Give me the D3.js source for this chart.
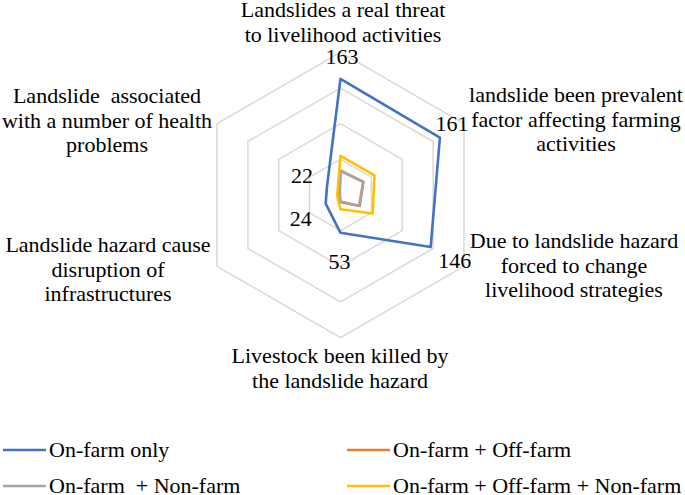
<!DOCTYPE html>
<html>
<head>
<meta charset="utf-8">
<script src="https://cdn.jsdelivr.net/npm/d3@7"></script>
</head>
<body style="margin:0">
<svg id="chart" width="685" height="495"></svg>
<script>
// categories, clockwise from the top
var categories = [
  ["Landslides a real threat", "to livelihood activities"],
  ["landslide been prevalent", "factor affecting farming", "activities"],
  ["Due to landslide hazard", "forced to change", "livelihood strategies"],
  ["Livestock been killed by", "the landslide hazard"],
  ["Landslide hazard cause", "disruption of", "infrastructures"],
  ["Landslide  associated", "with a number of health", "problems"]
]
var seriesNames = ["On-farm only", "On-farm + Off-farm", "On-farm  + Non-farm", "On-farm + Off-farm + Non-farm"]
var onFarmOnly = [163, 161, 146, 53, 24, 22]
var onOffFarm = [34, 37, 31, 10, 2, 2]
var onNonFarm = [34, 37, 30, 9, 1, 1]
var onOffNonFarm = [55, 55, 52, 20, 5, 5]
var ringTicks = [50, 100, 150, 200]

var colors = ["#4472C4", "#ED7D31", "#A5A5A5", "#FFC000"]
var allSeries = [onFarmOnly, onOffFarm, onNonFarm, onOffNonFarm]
var font = "Liberation Serif"

var cx = 340.5, cy = 195
var svg = d3.select("#chart").attr("font-family", font)
var g = svg.append("g").attr("transform", "translate(" + cx + "," + cy + ")")

var rScale = d3.scaleLinear().domain([0, 200]).range([0, 142.6])
var angle = d3.scaleLinear().domain([0, categories.length]).range([0, 2 * Math.PI])

var radial = d3.lineRadial()
  .angle((d, i) => angle(i))
  .radius(d => rScale(d))
  .curve(d3.curveLinearClosed)

// grid rings
g.selectAll(".ring")
  .data(ringTicks)
  .enter()
  .append("path")
  .attr("d", t => radial(categories.map(() => t)))
  .attr("fill", "none")
  .attr("stroke", "#d9d9d9")
  .attr("stroke-width", 1.5)

// series
g.selectAll(".series")
  .data(allSeries)
  .enter()
  .append("path")
  .attr("d", d => radial(d))
  .attr("fill", "none")
  .attr("stroke", (d, i) => colors[i])
  .attr("stroke-width", 2.6)
  .attr("stroke-linejoin", "round")

function pt(v, i) {
  var a = angle(i)
  return [rScale(v) * Math.sin(a), -rScale(v) * Math.cos(a)]
}

// data labels for the first series
var labelOffsets = [[1.5, -15], [12, -7], [24, 21], [-1, 36], [-25, 22], [-25, -4]]
g.selectAll(".val")
  .data(onFarmOnly)
  .enter()
  .append("text")
  .attr("x", (d, i) => pt(d, i)[0] + labelOffsets[i][0])
  .attr("y", (d, i) => pt(d, i)[1] + labelOffsets[i][1])
  .attr("text-anchor", "middle")
  .attr("font-family", font)
  .attr("font-size", 22)
  .text(d => d)

// category labels (first baseline offset from the outer vertex)
var catOffsets = [[2.5, -35.4], [112, -21.7], [110, -18.3], [-0.5, 25.4], [-109, -14.3], [-110, -20.7]]
var lineH = 24.5
categories.forEach(function (lines, i) {
  var p = pt(200, i)
  lines.forEach(function (s, j) {
    g.append("text")
      .attr("x", p[0] + catOffsets[i][0])
      .attr("y", p[1] + catOffsets[i][1] + j * lineH)
      .attr("text-anchor", "middle")
      .attr("font-family", font)
      .attr("font-size", 22)
      .style("white-space", "pre")
      .text(s)
  })
})

// legend
var legendPos = [[3, 450], [347, 450], [3, 486], [347, 486]]
var legend = svg.selectAll(".legend")
  .data(seriesNames)
  .enter()
  .append("g")
  .attr("transform", (d, i) => "translate(" + legendPos[i][0] + "," + legendPos[i][1] + ")")

legend.append("line")
  .attr("x1", 0).attr("x2", 43)
  .attr("stroke", (d, i) => colors[i])
  .attr("stroke-width", 2.6)

legend.append("text")
  .attr("x", 46)
  .attr("y", 7)
  .attr("font-family", font)
  .attr("font-size", 22)
  .style("white-space", "pre")
  .text(d => d)
</script>
</body>
</html>
